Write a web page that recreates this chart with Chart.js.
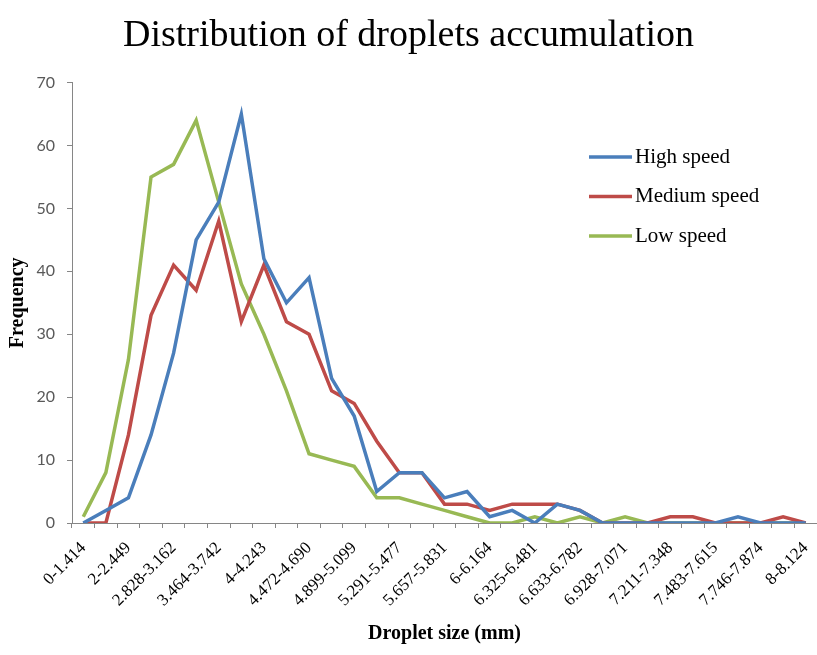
<!DOCTYPE html>
<html>
<head>
<meta charset="utf-8">
<script src="https://cdn.jsdelivr.net/npm/chart.js@4.4.0/dist/chart.umd.min.js"></script>
<style>
  html, body { margin: 0; padding: 0; background: #fff; }
</style>
</head>
<body>
<canvas id="chart" width="817" height="655"></canvas>
<script>
// Droplet size classes (mm)
const sizeClasses = [
  '0-1.414', '1.414-2', '2-2.449', '2.449-2.828', '2.828-3.162', '3.162-3.464',
  '3.464-3.742', '3.742-4', '4-4.243', '4.243-4.472', '4.472-4.690', '4.690-4.899',
  '4.899-5.099', '5.099-5.291', '5.291-5.477', '5.477-5.657', '5.657-5.831', '5.831-6',
  '6-6.164', '6.164-6.325', '6.325-6.481', '6.481-6.633', '6.633-6.782', '6.782-6.928',
  '6.928-7.071', '7.071-7.211', '7.211-7.348', '7.348-7.483', '7.483-7.615', '7.615-7.746',
  '7.746-7.874', '7.874-8', '8-8.124'
];

const highSpeed   = [0, 2, 4, 14, 27, 45, 51, 65, 42, 35, 39, 23, 17, 5, 8, 8, 4, 5, 1, 2, 0, 3, 2, 0, 0, 0, 0, 0, 0, 1, 0, 0, 0];
const mediumSpeed = [0, 0, 14, 33, 41, 37, 48, 32, 41, 32, 30, 21, 19, 13, 8, 8, 3, 3, 2, 3, 3, 3, 2, 0, 0, 0, 1, 1, 0, 0, 0, 1, 0];
const lowSpeed    = [1, 8, 26, 55, 57, 64, 51, 38, 30, 21, 11, 10, 9, 4, 4, 3, 2, 1, 0, 0, 1, 0, 1, 0, 1, 0, 0, 0, 0, 0, 0, 0, 0];

const seriesNames = ['High speed', 'Medium speed', 'Low speed'];
const seriesColors = ['#4a7ebb', '#be4b48', '#98b954'];

const serif = "'Liberation Serif', 'Times New Roman', serif";
const axisGray = '#868686';

// legend drawn inside the plot, like the Excel original
const innerLegend = {
  id: 'innerLegend',
  afterDatasetsDraw(chart) {
    const ctx = chart.ctx;
    ctx.save();
    ctx.font = '21px ' + serif;
    ctx.fillStyle = '#000';
    ctx.textBaseline = 'middle';
    chart.data.datasets.forEach((ds, i) => {
      const y = 157 + i * 39.5;
      ctx.strokeStyle = ds.borderColor;
      ctx.lineWidth = 3.5;
      ctx.beginPath();
      ctx.moveTo(589, y);
      ctx.lineTo(632, y);
      ctx.stroke();
      ctx.fillText(ds.label, 635, y);
    });
    ctx.restore();
  }
};

const ctx = document.getElementById('chart').getContext('2d');
new Chart(ctx, {
  type: 'line',
  data: {
    labels: sizeClasses,
    datasets: [highSpeed, mediumSpeed, lowSpeed].map((vals, i) => ({
      label: seriesNames[i],
      data: vals,
      borderColor: seriesColors[i],
      backgroundColor: seriesColors[i],
      borderWidth: 3.5,
      pointRadius: 0,
      tension: 0,
      fill: false
    }))
  },
  options: {
    responsive: false,
    animation: false,
    layout: { padding: 0 },
    plugins: {
      legend: { display: false },
      tooltip: { enabled: false },
      title: {
        display: true,
        text: 'Distribution of droplets accumulation',
        color: '#000',
        font: { family: serif, size: 38, weight: 'normal' },
        padding: { top: 13, bottom: 24 }
      }
    },
    scales: {
      x: {
        offset: true,
        grid: {
          offset: true,
          drawOnChartArea: false,
          drawTicks: true,
          tickLength: 5,
          color: axisGray
        },
        border: { color: axisGray, width: 1 },
        ticks: {
          autoSkip: false,
          maxRotation: 45,
          minRotation: 45,
          padding: 10,
          color: '#000',
          font: { family: serif, size: 17 },
          callback: (v, i) => (i % 2 === 0 ? sizeClasses[i] : '')
        },
        title: {
          display: true,
          text: 'Droplet size (mm)',
          color: '#000',
          font: { family: serif, size: 20, weight: 'bold' },
          padding: { top: 4, bottom: 9 }
        },
        afterFit(scale) {
          scale.height = 132;
          scale.paddingRight = 0;
        }
      },
      y: {
        min: 0,
        max: 70,
        grid: {
          drawOnChartArea: false,
          drawTicks: true,
          tickLength: 5,
          color: axisGray
        },
        border: { color: axisGray, width: 1 },
        ticks: {
          stepSize: 10,
          padding: 12,
          color: '#595959',
          font: { family: "Lato, 'Liberation Sans', sans-serif", size: 16 }
        },
        title: {
          display: true,
          text: 'Frequency',
          color: '#000',
          font: { family: serif, size: 20, weight: 'bold' },
          padding: { top: 6, bottom: 0 }
        },
        afterFit(scale) { scale.width = 72; }
      }
    }
  },
  plugins: [innerLegend]
});
</script>
</body>
</html>
